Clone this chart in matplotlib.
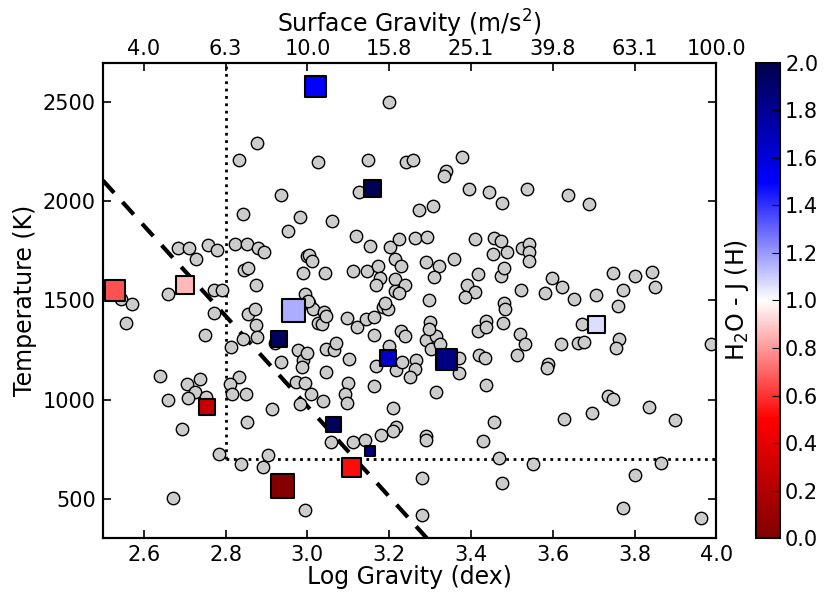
import numpy as np
from matplotlib import pyplot as plt

# field objects (grey circles): log g (dex), Teff (K)
logg = [2.877, 2.833, 2.936, 2.843, 2.981, 2.952, 2.683, 2.710, 2.727, 2.757,
        2.778, 2.823, 2.853, 2.880, 2.894, 2.846, 2.856, 2.874, 2.990, 2.998,
        2.660, 2.772, 2.791, 3.199, 3.026, 3.148, 3.242, 3.258, 3.377, 3.340,
        3.333, 3.395, 3.444, 3.477, 3.126, 3.272, 3.306, 3.060, 3.119, 3.154,
        3.202, 3.225, 3.262, 3.292, 3.410, 3.457, 3.474, 3.454, 3.489, 3.005,
        3.012, 3.043, 3.111, 3.145, 3.172, 3.177, 3.169, 3.215, 3.228, 3.215,
        3.238, 3.215, 3.291, 3.321, 3.310, 3.359, 3.417, 3.391, 3.411, 3.473,
        3.480, 3.536, 3.637, 3.689, 3.525, 3.542, 3.542, 3.542, 3.599, 3.622,
        3.523, 3.580, 3.652, 3.705, 3.747, 3.800, 3.844, 3.771, 3.851, 2.543,
        2.570, 2.556, 2.772, 2.750, 2.813, 2.856, 2.873, 2.875, 2.843, 2.876,
        2.921, 2.935, 2.977, 2.989, 2.987, 2.972, 2.994, 2.983, 2.913, 2.639,
        2.706, 2.738, 2.725, 2.708, 2.751, 2.660, 2.693, 2.832, 2.810, 2.816,
        2.850, 2.852, 2.784, 2.837, 2.892, 2.903, 2.672, 2.994, 3.005, 3.013,
        3.025, 3.035, 3.040, 3.096, 3.121, 3.144, 3.162, 3.163, 3.297, 3.480,
        3.479, 3.229, 3.238, 3.299, 3.289, 3.303, 3.314, 3.324, 3.418, 3.438,
        3.436, 3.420, 3.434, 3.046, 3.066, 3.070, 3.101, 3.046, 3.168, 3.217,
        3.232, 3.266, 3.262, 3.252, 3.370, 3.371, 3.162, 3.315, 3.438, 3.100,
        3.091, 3.097, 3.038, 3.009, 3.209, 3.456, 3.217, 3.209, 3.180, 3.291,
        3.289, 3.429, 3.058, 3.111, 3.140, 3.469, 3.476, 3.280, 3.280, 3.759,
        3.483, 3.521, 3.532, 3.513, 3.620, 3.661, 3.676, 3.672, 3.763, 3.755,
        3.987, 3.589, 3.585, 3.734, 3.748, 3.835, 3.695, 3.627, 3.900, 3.552,
        3.864, 3.800, 3.771, 3.963, 2.993, 3.001, 3.046, 2.998, 3.225, 3.386,
        3.185, 3.197, 3.189, 3.297, 3.199]
teff = [2293, 2209, 2034, 1938, 1921, 1850, 1763, 1766, 1711, 1781,
        1753, 1786, 1786, 1766, 1747, 1653, 1663, 1576, 1640, 1724,
        1535, 1555, 1555, 2500, 2197, 2207, 2200, 2207, 2224, 2155,
        2128, 2064, 2049, 1990, 2049, 1958, 1975, 1901, 1828, 1773,
        1769, 1809, 1816, 1822, 1808, 1818, 1802, 1734, 1744, 1728,
        1697, 1638, 1650, 1650, 1675, 1613, 1579, 1707, 1673, 1606,
        1579, 1547, 1692, 1673, 1618, 1711, 1632, 1577, 1542, 1626,
        1662, 2061, 2034, 1986, 1766, 1783, 1744, 1701, 1613, 1567,
        1552, 1539, 1507, 1528, 1640, 1626, 1645, 1555, 1567, 1505,
        1483, 1385, 1438, 1325, 1264, 1430, 1455, 1374, 1307, 1315,
        1283, 1189, 1248, 1202, 1163, 1088, 1081, 979, 953, 1121,
        1079, 1106, 1036, 1007, 1014, 1000, 852, 1115, 1076, 1027,
        1030, 888, 724, 673, 658, 719, 504, 441, 1488, 1455,
        1387, 1379, 1441, 1414, 1365, 1408, 1416, 1325, 1500, 1488,
        1387, 1345, 1320, 1392, 1300, 1256, 1320, 1281, 1345, 1396,
        1365, 1223, 1210, 1256, 1248, 1283, 1206, 1140, 1168, 1147,
        1189, 1202, 1155, 1113, 1210, 1135, 1067, 1039, 1071, 1081,
        1029, 984, 992, 1029, 958, 886, 861, 841, 820, 818,
        798, 790, 787, 785, 795, 706, 576, 605, 418, 1472,
        1455, 1329, 1278, 1227, 1278, 1287, 1292, 1382, 1308, 1260,
        1278, 1177, 1157, 1020, 1004, 963, 930, 903, 896, 672,
        677, 618, 453, 402, 1535, 1497, 1421, 1236, 1538, 1517,
        1468, 1455, 1488, 1354, 1269]

# objects with H2O-J index (coloured squares)
sq_logg = [3.020, 3.159, 2.700, 2.530, 2.966, 2.931, 3.197, 3.341, 3.707,
           2.755, 2.939, 3.064, 3.153, 3.107]
sq_teff = [2582, 2065, 1577, 1550, 1448, 1307, 1210, 1202, 1379,
           961, 564, 874, 739, 655]
sq_h2o = [1.50, 1.97, 0.86, 0.66, 1.16, 1.95, 1.66, 1.85, 1.07,
          0.28, 0.02, 1.95, 1.85, 0.53]
sq_size = [233, 141, 172, 218, 279, 136, 146, 224, 164,
           129, 293, 104, 47, 191]

# selection cuts
cut_logg = [2.5, 3.3]
cut_teff = [2106, 282]
logg_min = 2.8
teff_min = 700

plt.rcParams['xtick.direction'] = 'in'
plt.rcParams['ytick.direction'] = 'in'
plt.rcParams['xtick.major.size'] = 6
plt.rcParams['ytick.major.size'] = 6
plt.rcParams['axes.linewidth'] = 1.5
plt.rcParams['font.size'] = 15

fig = plt.figure(figsize=(8.3, 6.04))
ax = fig.add_axes([0.124, 0.109, 0.739, 0.787])
cax = fig.add_axes([0.911, 0.109, 0.029, 0.787])

ax.scatter(logg, teff, s=80, c='#cccccc', edgecolors='k', linewidths=1, zorder=2)
sc = ax.scatter(sq_logg, sq_teff, s=sq_size, c=sq_h2o, cmap='seismic_r',
                vmin=0, vmax=2, marker='s', edgecolors='k', linewidths=1.5,
                zorder=3)

ax.plot(cut_logg, cut_teff, 'k--', lw=3, dashes=(4, 3), zorder=1)
ax.plot([logg_min, logg_min], [teff_min, 2700], 'k:', lw=2, zorder=1)
ax.plot([logg_min, 4.0], [teff_min, teff_min], 'k:', lw=2, zorder=1)

ax.set_xlim(2.5, 4.0)
ax.set_ylim(300, 2700)
ax.set_xticks(np.arange(2.6, 4.01, 0.2))
ax.set_yticks([500, 1000, 1500, 2000, 2500])
ax.yaxis.set_ticks_position('both')
ax.set_xlabel('Log Gravity (dex)', fontsize=17, labelpad=0)
ax.set_ylabel('Temperature (K)', fontsize=17, labelpad=4)
ax.tick_params(labelsize=15, width=1.2, pad=5)

top = ax.twiny()
top.set_xlim(ax.get_xlim())
top_ticks = np.arange(2.6, 4.01, 0.2)
top.set_xticks(top_ticks)
top.set_xticklabels(['%.1f' % 10 ** (t - 2) for t in top_ticks])
top.set_xlabel('Surface Gravity (m/s$^2$)', fontsize=17, labelpad=4)
top.tick_params(labelsize=15, width=1.2, pad=3)

cbar = fig.colorbar(sc, cax=cax, ticks=np.arange(0, 2.01, 0.2))
cbar.ax.set_yticklabels(['%.1f' % t for t in np.arange(0, 2.01, 0.2)])
cbar.ax.tick_params(labelsize=15, direction='in', length=6)
cbar.set_label('H$_2$O - J (H)', fontsize=17, labelpad=4)
cbar.ax.yaxis.set_label_position('left')

fig.savefig('out.png', dpi=100)
